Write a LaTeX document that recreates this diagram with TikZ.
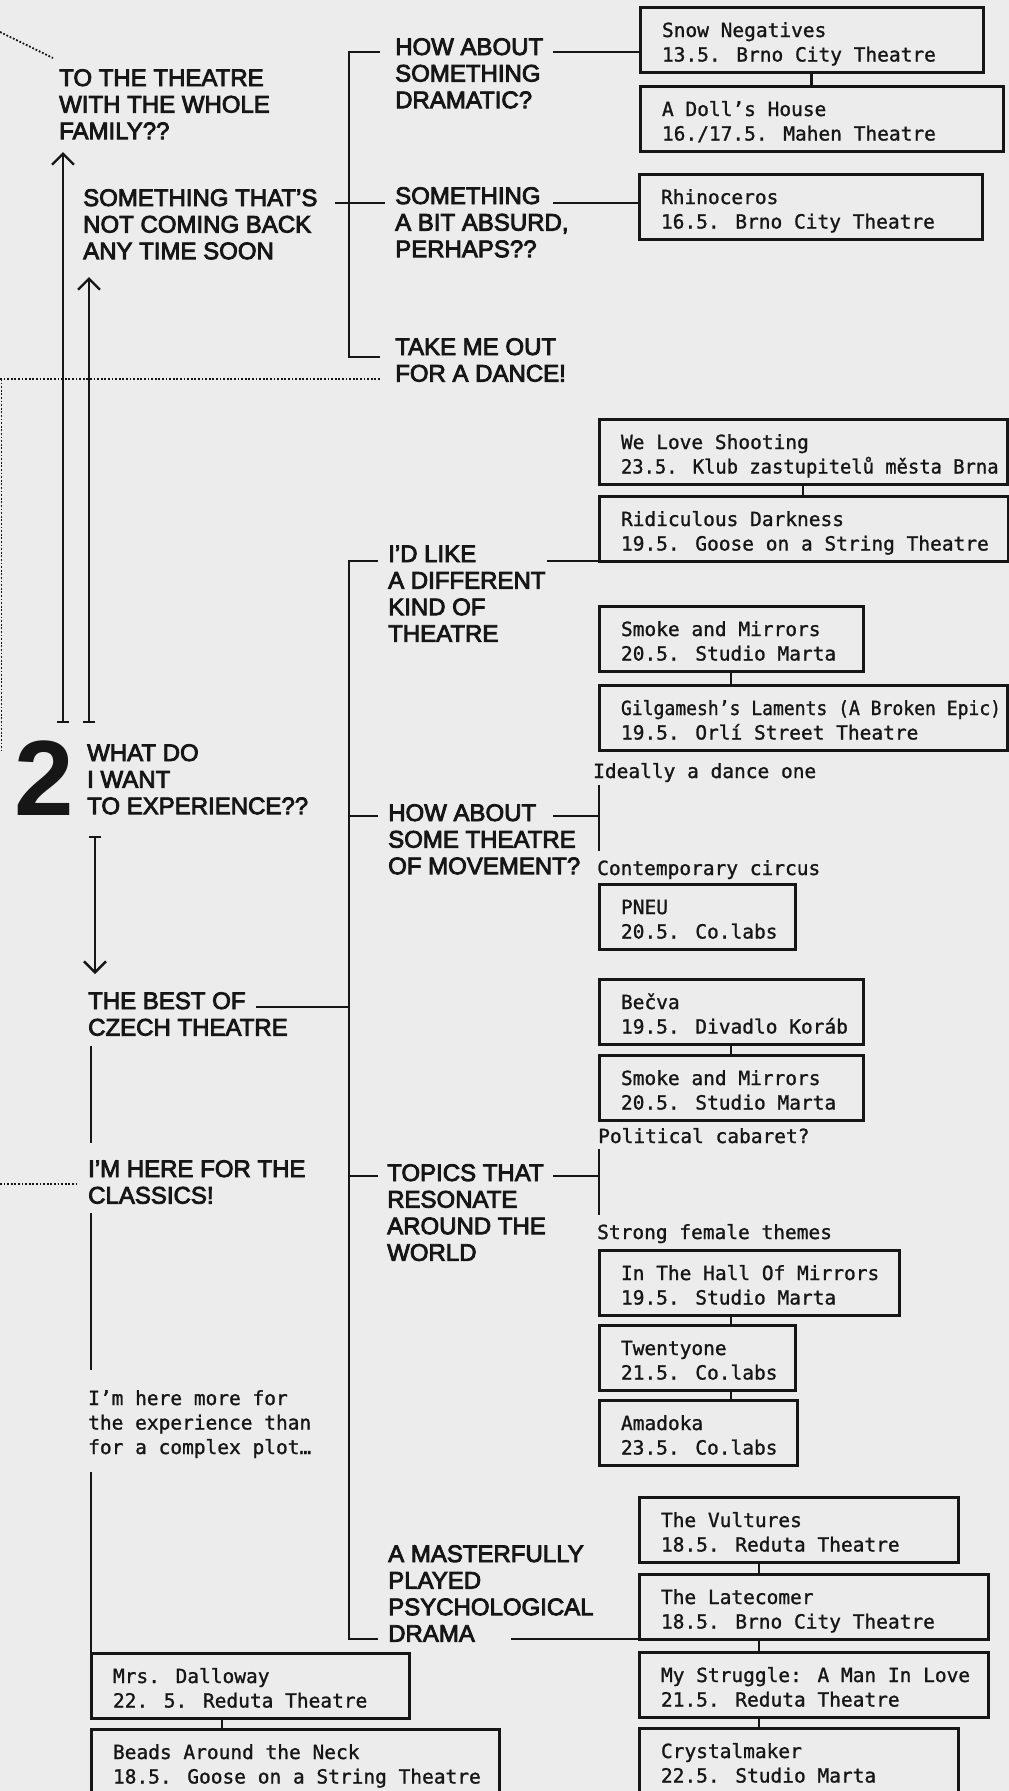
\documentclass[tikz,border=0pt]{standalone}
\usepackage{fontspec}
\usepackage{graphicx}
\usetikzlibrary{arrows.meta}
\newfontfamily\capfont{Liberation Sans}[FakeBold=3.5]
\newfontfamily\numfont{Liberation Sans Bold}
\newfontfamily\boxfont{DejaVu Sans Mono}[FakeBold=1.2]
\newcommand\ml[1]{\begin{tabular}[t]{@{}l@{}}#1\end{tabular}}
\newcommand\crd[3]{\makebox[\dimexpr#1pt-44pt\relax][l]{\ml{#2\\#3}}}
\definecolor{bg}{HTML}{ECECEC}
\definecolor{ink}{HTML}{161616}
\tikzset{
  lab/.style={inner sep=0pt, anchor=base west, text=ink, font=\capfont\fontsize{24}{26.6}\selectfont},
  mtext/.style={inner sep=0pt, anchor=base west, text=ink, font=\boxfont\fontsize{19.5}{24.5}\selectfont},
  card/.style={draw=ink, line width=3pt, anchor=north west, outer sep=0pt, inner xsep=22pt, inner ysep=0pt,
    text height=30pt, text depth=35pt, text=ink, font=\boxfont\fontsize{19.5}{24.5}\selectfont},
  link/.style={draw=ink, line width=2.8pt},
  dots/.style={draw=ink, line width=1.8pt, dash pattern=on 1.8pt off 1.8pt},
  upar/.style={link, line width=2.4pt, {Bar[width=12pt]}-{Straight Barb[length=11pt,width=22pt]}},
}
\begin{document}
\begin{tikzpicture}[x=1pt,y=-1pt]
\fill[bg] (0,0) rectangle (1009,1791);
\useasboundingbox (0,0) rectangle (1009,1791);

% ---------- labels ----------
\node[lab] (fam) at (59,86) {\ml{TO THE THEATRE\\WITH THE WHOLE\\FAMILY??}};
\node[lab] (back) at (83,206) {\ml{SOMETHING THAT’S\\NOT COMING BACK\\ANY TIME SOON}};
\node[lab] (dram) at (395,55) {\ml{HOW ABOUT\\SOMETHING\\DRAMATIC?}};
\node[lab] (absurd) at (395,204) {\ml{SOMETHING\\A BIT ABSURD,\\PERHAPS??}};
\node[lab] (dance) at (395,355) {\ml{TAKE ME OUT\\FOR A DANCE!}};
\node[lab, font=\numfont\fontsize{107}{107}\selectfont] (two) at (14,815) {2};
\node[lab] (what) at (87,761) {\ml{WHAT DO\\I WANT\\TO EXPERIENCE??}};
\node[lab] (diff) at (388,562) {\ml{I’D LIKE\\A DIFFERENT\\KIND OF\\THEATRE}};
\node[lab] (move) at (388,821) {\ml{HOW ABOUT\\SOME THEATRE\\OF MOVEMENT?}};
\node[lab] (best) at (88,1009) {\ml{THE BEST OF\\CZECH THEATRE}};
\node[lab] (classics) at (88,1177) {\ml{I’M HERE FOR THE\\CLASSICS!}};
\node[lab] (topics) at (387,1181) {\ml{TOPICS THAT\\RESONATE\\AROUND THE\\WORLD}};
\node[lab] (psych) at (388,1562) {\ml{A MASTERFULLY\\PLAYED\\PSYCHOLOGICAL\\DRAMA}};

% ---------- mono notes ----------
\node[mtext] (ideal) at (593,778) {Ideally a dance one};
\node[mtext] (circus) at (597,875) {Contemporary circus};
\node[mtext] (cabaret) at (598,1143) {Political cabaret?};
\node[mtext] (female) at (597,1239) {Strong female themes};
\node[mtext] (exper) at (88,1405) {\ml{I’m here more for\\the experience than\\for a complex plot…}};

% ---------- cards ----------
\node[card] (snow) at (640,7) {\crd{343}{Snow Negatives}{13.5. Brno City Theatre}};
\node[card] (doll) at (640,86) {\crd{363}{A Doll’s House}{16./17.5. Mahen Theatre}};
\node[card] (rhino) at (639,174) {\crd{343}{Rhinoceros}{16.5. Brno City Theatre}};
\node[card] (shoot) at (599,419) {\crd{408}{We Love Shooting}{\scalebox{0.965}[1]{23.5. Klub zastupitelů města Brna}}};
\node[card] (ridic) at (599,496) {\crd{409}{Ridiculous Darkness}{19.5. Goose on a String Theatre}};
\node[card] (smokea) at (599,606) {\crd{264}{Smoke and Mirrors}{20.5. Studio Marta}};
\node[card] (gilg) at (599,685) {\crd{408}{\scalebox{0.925}[1]{Gilgamesh’s Laments (A Broken Epic)}}{19.5. Orlí Street Theatre}};
\node[card] (pneu) at (599,884) {\crd{196}{PNEU}{20.5. Co.labs}};
\node[card] (becva) at (599,979) {\crd{264}{Bečva}{19.5. Divadlo Koráb}};
\node[card] (smokeb) at (599,1055) {\crd{264}{Smoke and Mirrors}{20.5. Studio Marta}};
\node[card] (hall) at (599,1250) {\crd{300}{In The Hall Of Mirrors}{19.5. Studio Marta}};
\node[card] (twenty) at (599,1325) {\crd{196}{Twentyone}{21.5. Co.labs}};
\node[card] (amadoka) at (599,1400) {\crd{198}{Amadoka}{23.5. Co.labs}};
\node[card] (vult) at (639,1497) {\crd{319}{The Vultures}{18.5. Reduta Theatre}};
\node[card] (late) at (639,1574) {\crd{349}{The Latecomer}{18.5. Brno City Theatre}};
\node[card] (strug) at (639,1652) {\crd{349}{My Struggle: A Man In Love}{21.5. Reduta Theatre}};
\node[card] (crystal) at (639,1728) {\crd{319}{Crystalmaker}{22.5. Studio Marta}};
\node[card] (dalloway) at (91,1653) {\crd{318}{Mrs. Dalloway}{22. 5. Reduta Theatre}};
\node[card] (beads) at (91,1729) {\crd{408}{Beads Around the Neck}{18.5. Goose on a String Theatre}};

% ---------- helper coordinates ----------
\coordinate (kx) at (349,0);
\coordinate (vx) at (759,0);
\coordinate (dx) at (222,0);
\coordinate (k1a) at (380,52);
\coordinate (k1b) at (380,357);
\coordinate (nb1) at (335,203);
\coordinate (nb2) at (385,203);
\coordinate (dr1) at (553,52);
\coordinate (ab1) at (553,203);
\coordinate (k2a) at (378,561);
\coordinate (k2b) at (378,1639);
\coordinate (k2c) at (378,816);
\coordinate (k2d) at (378,1176);
\coordinate (bs) at (256,1007);
\coordinate (df) at (547,561);
\coordinate (mv) at (553,816);
\coordinate (mvt) at (599,785);
\coordinate (mvb) at (599,851);
\coordinate (tp) at (553,1176);
\coordinate (tpt) at (599,1149);
\coordinate (tpb) at (599,1215);
\coordinate (ps) at (511,1639);
\coordinate (c1a) at (91,1046);
\coordinate (c1b) at (91,1143);
\coordinate (c2a) at (91,1213);
\coordinate (c2b) at (91,1370);
\coordinate (c3a) at (91,1472);
\coordinate (u1s) at (63,723);
\coordinate (u1e) at (63,152);
\coordinate (u2s) at (89,723);
\coordinate (u2e) at (89,277);
\coordinate (dns) at (95,836);
\coordinate (dne) at (95,974);
\coordinate (d1a) at (0,32);
\coordinate (d1b) at (53,58);
\coordinate (d2a) at (0,379);
\coordinate (d2b) at (381,379);
\coordinate (d3a) at (1.5,379);
\coordinate (d3b) at (1.5,750);
\coordinate (d4a) at (0,1184);
\coordinate (d4b) at (77,1184);

% ---------- card stacks ----------
\draw[link] (snow.south) -- (doll.north -| snow.south);
\draw[link] (shoot.south) -- (ridic.north -| shoot.south);
\draw[link] (smokea.south) -- (gilg.north -| smokea.south);
\draw[link] (becva.south) -- (smokeb.north);
\draw[link] (hall.south -| becva.south) -- (twenty.north -| becva.south);
\draw[link] (twenty.south -| becva.south) -- (amadoka.north -| becva.south);
\draw[link] (vult.south -| vx) -- (late.north -| vx);
\draw[link] (late.south -| vx) -- (strug.north -| vx);
\draw[link] (strug.south -| vx) -- (crystal.north -| vx);
\draw[link] (dalloway.south -| dx) -- (beads.north -| dx);

% ---------- brackets ----------
\draw[link] (k1a) -- (k1a -| kx) |- (k1b);
\draw[link] (nb1) -- (nb2);
\draw[link] (dr1) -- (dr1 -| snow.west);
\draw[link] (ab1) -- (ab1 -| rhino.west);
\draw[link] (k2a) -- (k2a -| kx) |- (k2b);
\draw[link] (k2c) -- (k2c -| kx);
\draw[link] (k2d) -- (k2d -| kx);
\draw[link] (bs) -- (bs -| kx);
\draw[link] (df) -- (ridic.south west);
\draw[link] (mv) -- (mv -| mvt);
\draw[link] (mvt) -- (mvb);
\draw[link] (tp) -- (tp -| tpt);
\draw[link] (tpt) -- (tpb);
\draw[link] (ps) -- (late.south west);

% ---------- left column ----------
\draw[link] (c1a) -- (c1b);
\draw[link] (c2a) -- (c2b);
\draw[link] (c3a) -- (dalloway.north west);
\draw[upar] (u1s) -- (u1e);
\draw[upar] (u2s) -- (u2e);
\draw[upar] (dns) -- (dne);

% ---------- dotted ----------
\draw[dots] (d1a) -- (d1b);
\draw[dots] (d2a) -- (d2b);
\draw[dots] (d3a) -- (d3b);
\draw[dots] (d4a) -- (d4b);
\end{tikzpicture}
\end{document}
